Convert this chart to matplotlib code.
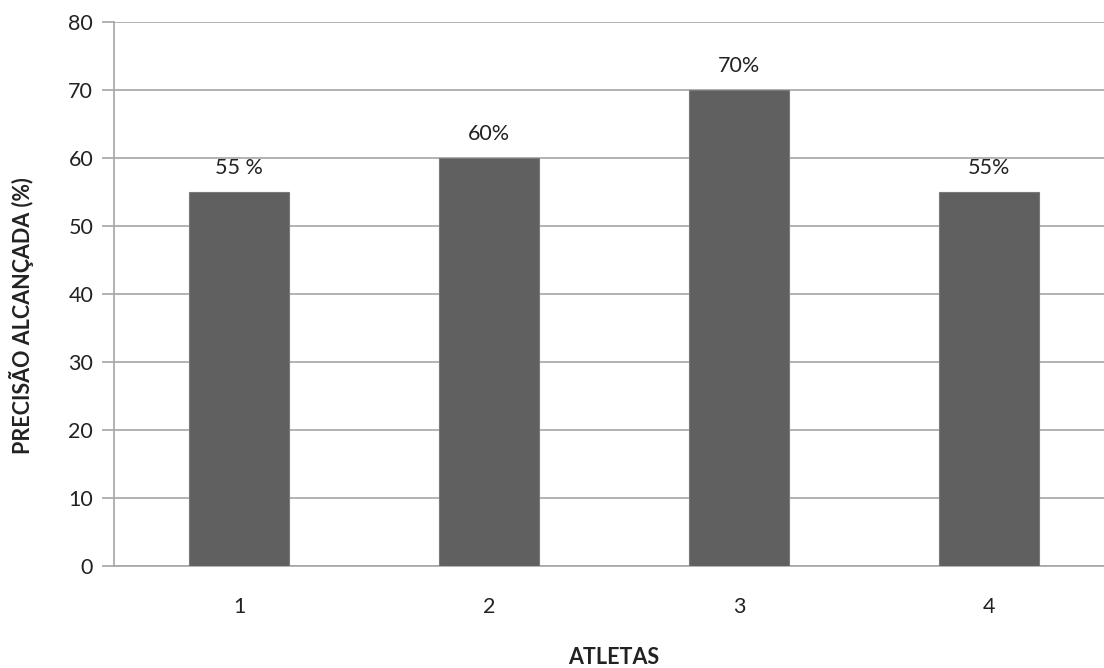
import matplotlib
matplotlib.use('Agg')
import matplotlib.pyplot as plt

# --- Data ---
ATHLETES = ['1', '2', '3', '4']
PRECISION = [55, 60, 70, 55]
LABELS = ['55 %', '60%', '70%', '55%']
Y_TICKS = [0, 10, 20, 30, 40, 50, 60, 70, 80]

# --- Theme ---
BAR = '#606060'
GRID = '#a6a6a6'
TEXT = '#222222'

DPI = 100
W, H = 1104, 668

plt.rcParams['font.family'] = ['Lato', 'DejaVu Sans']

fig = plt.figure(figsize=(W / DPI, H / DPI), dpi=DPI)
ax = fig.add_axes([114 / W, 1 - 566 / H, (W - 114) / W, (566 - 22) / H])

pos = list(range(1, len(ATHLETES) + 1))
ax.bar(pos, PRECISION, width=0.4, color=BAR, edgecolor='#7a7a7a', linewidth=0.8, zorder=3)

for x, v, lab in zip(pos, PRECISION, LABELS):
    ax.text(x, v + 2.0, lab, ha='center', va='bottom', fontsize=15.5, color=TEXT)

ax.set_xlim(0.5, 0.5 + (W - 114) / 250)
ax.set_ylim(0, 80)
ax.set_yticks(Y_TICKS)
ax.set_xticks(pos)
ax.set_xticklabels(ATHLETES)
ax.yaxis.grid(True, color=GRID, linewidth=1.2, zorder=0)
ax.set_axisbelow(True)

for s in ('top', 'right'):
    ax.spines[s].set_visible(False)
for s in ('left', 'bottom'):
    ax.spines[s].set_color(GRID)
    ax.spines[s].set_linewidth(1.2)

ax.tick_params(axis='y', length=9, width=1.2, color=GRID, labelsize=15.5, labelcolor=TEXT, pad=6)
ax.tick_params(axis='x', length=0, labelsize=15.5, labelcolor=TEXT, pad=22)

fig.text(614 / W, 1 - 658 / H, 'ATLETAS', ha='center', va='center',
         fontsize=15.5, fontweight='bold', color=TEXT)
fig.text(22 / W, 1 - 316 / H, 'PRECISÃO ALCANÇADA (%)', ha='center', va='center',
         rotation=90, fontsize=15.5, fontweight='bold', color=TEXT)

fig.savefig('out.png', dpi=DPI, facecolor='white')
